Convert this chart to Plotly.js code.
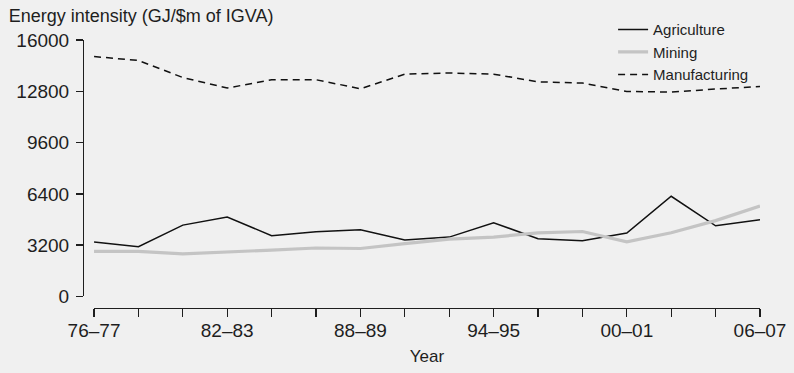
<!DOCTYPE html>
<html>
<head>
<meta charset="utf-8">
<script src="https://cdn.plot.ly/plotly-3.0.1.min.js"></script>
<style>
html,body{margin:0;padding:0;background:#f0f0f0;}
#chart{width:794px;height:373px;}
</style>
</head>
<body>
<div id="chart"></div>
<script>
const categories = ['76–77','78–79','80–81','82–83','84–85','86–87','88–89','90–91','92–93','94–95','96–97','98–99','00–01','02–03','04–05','06–07'];
const labelledTicks = ['76–77','82–83','88–89','94–95','00–01','06–07'];
const agriculture = [3400, 3100, 4450, 4950, 3790, 4030, 4160, 3520, 3700, 4600, 3600, 3470, 3960, 6250, 4410, 4790];
const mining = [2810, 2810, 2660, 2750, 2890, 3020, 2990, 3290, 3580, 3700, 3970, 4050, 3410, 3970, 4730, 5640];
const manufacturing = [14970, 14720, 13660, 13000, 13520, 13520, 12960, 13870, 13940, 13870, 13390, 13310, 12790, 12750, 12940, 13100];
const yTicks = [0, 3200, 6400, 9600, 12800, 16000];

const FONT = 'Liberation Sans, Arial, sans-serif';
const INK = '#1e1e1e';

const traces = [
  {x: categories, y: agriculture, name: 'Agriculture', type: 'scatter', mode: 'lines',
   line: {color: '#111111', width: 1.5}},
  {x: categories, y: mining, name: 'Mining', type: 'scatter', mode: 'lines',
   line: {color: '#c4c4c4', width: 3.2}},
  {x: categories, y: manufacturing, name: 'Manufacturing', type: 'scatter', mode: 'lines',
   line: {color: '#111111', width: 1.5, dash: '7px,5px'}}
];

const layout = {
  width: 794, height: 373,
  paper_bgcolor: '#f0f0f0', plot_bgcolor: '#f0f0f0',
  margin: {l: 83, r: 34, t: 40, b: 65},
  font: {family: FONT, color: INK, size: 17},
  title: {text: 'Energy intensity (GJ/$m of IGVA)', xref: 'container', yref: 'container',
          x: 0.011, xanchor: 'left', y: 0.975, yanchor: 'top',
          font: {family: FONT, size: 18, color: INK}},
  showlegend: true,
  legend: {x: 0.783, xanchor: 'left', y: 1.1, yanchor: 'top', bgcolor: 'rgba(0,0,0,0)',
           font: {family: FONT, size: 15, color: INK}, tracegroupgap: 0, itemwidth: 30,
           traceorder: 'normal'},
  xaxis: {type: 'category', domain: [0.0163, 1], anchor: 'free', position: 0,
          range: [0, categories.length - 1],
          tickmode: 'array', tickvals: categories,
          ticktext: categories.map(c => labelledTicks.includes(c) ? c : ''),
          ticks: 'outside', ticklen: 8, tickwidth: 1.3, tickcolor: INK,
          showline: true, linecolor: INK, linewidth: 1.3,
          showgrid: false, zeroline: false, ticklabelstandoff: -3,
          tickfont: {family: FONT, size: 19, color: INK},
          title: {text: 'Year', standoff: 10, font: {family: FONT, size: 17, color: INK}}},
  yaxis: {domain: [0.0432, 1], anchor: 'free', position: 0,
          range: [0, 16000], tickmode: 'array', tickvals: yTicks,
          ticktext: yTicks.map(String),
          ticks: 'outside', ticklen: 7, tickwidth: 1.3, tickcolor: INK,
          showline: true, linecolor: INK, linewidth: 1.3,
          showgrid: false, zeroline: false, ticklabelstandoff: 3,
          tickfont: {family: FONT, size: 19, color: INK}}
};

Plotly.newPlot('chart', traces, layout, {displayModeBar: false, staticPlot: true});
</script>
</body>
</html>
